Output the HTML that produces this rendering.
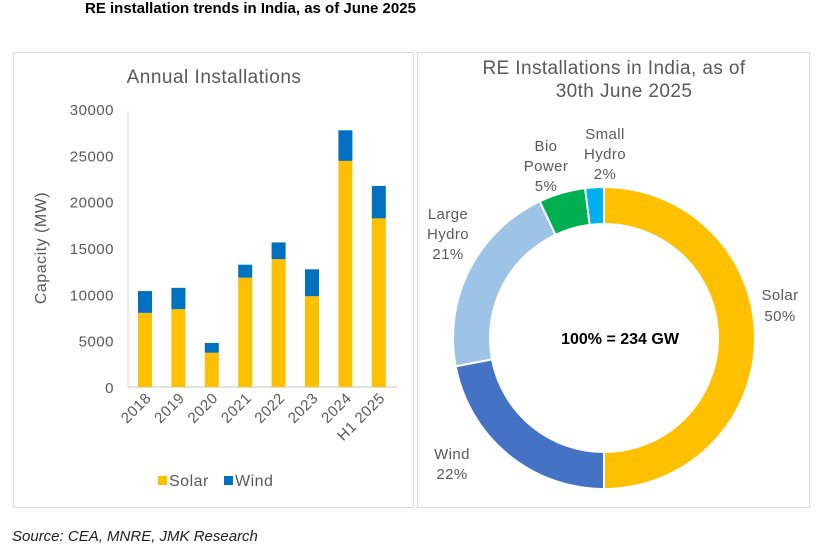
<!DOCTYPE html>
<html><head><meta charset="utf-8"><style>
body{margin:0;width:825px;height:545px;background:#fff;font-family:"Liberation Sans",sans-serif;position:relative;overflow:hidden}
.t{position:absolute}
</style></head><body>
<div class="t" style="left:85px;top:0px;font-size:15px;font-weight:bold;color:#000">RE installation trends in India, as of June 2025</div>
<div class="t" style="left:12px;top:528px;font-size:15px;font-style:italic;color:#222">Source: CEA, MNRE, JMK Research</div>
<svg width="825" height="545" style="position:absolute;left:0;top:0">
<rect x="13.5" y="52.5" width="400" height="455" fill="none" stroke="#d9d9d9"/>
<rect x="417.5" y="52.5" width="392" height="455" fill="none" stroke="#d9d9d9"/>
<text x="214" y="83" font-size="19" fill="#595959" text-anchor="middle" letter-spacing="0.5">Annual Installations</text>
<text transform="translate(46,248) rotate(-90)" font-size="16" fill="#595959" text-anchor="middle" letter-spacing="0.5">Capacity (MW)</text>
<g id="bars"></g>
<text x="614" y="74" font-size="19" fill="#595959" text-anchor="middle" letter-spacing="0.4">RE Installations in India, as of</text>
<text x="624" y="97" font-size="19" fill="#595959" text-anchor="middle" letter-spacing="0.4">30th June 2025</text>
<g id="donut"></g>
<text x="620" y="344" font-size="16" font-weight="bold" fill="#000" text-anchor="middle">100% = 234 GW</text>
</svg>
<script>
const categories=["2018","2019","2020","2021","2022","2023","2024","H1 2025"];
const solar=[8000,8400,3700,11800,13800,9800,24400,18200];
const wind=[2350,2300,1050,1400,1800,2900,3300,3500];
const yTicks=[0,5000,10000,15000,20000,25000,30000];
const shareLabels=["Solar","Wind","Large Hydro","Bio Power","Small Hydro"];
const shares=[50,22,21,5,2];
const NS="http://www.w3.org/2000/svg";
function mk(p,tag,a){const e=document.createElementNS(NS,tag);for(const k in a)e.setAttribute(k,a[k]);p.appendChild(e);return e;}
const bars=document.getElementById('bars');
const y0=387,yTop=109,yMax=30000;
const y=v=>y0-(v/yMax)*(y0-yTop);
const x0=128,step=33.4;
const xc=i=>x0+17+i*step;
yTicks.forEach(t=>{const e=mk(bars,'text',{x:114,y:y(t)+6,'font-size':15,fill:'#595959','text-anchor':'end','letter-spacing':0.5});e.textContent=t;

});
let ax=mk(bars,'line',{x1:x0,y1:y0,x2:397,y2:y0,stroke:'#d9d9d9','stroke-width':1.5});


let ay=mk(bars,'line',{x1:x0,y1:y0,x2:x0,y2:111,stroke:'#d9d9d9','stroke-width':1});


categories.forEach((c,i)=>{
 const bw=14,x=xc(i)-bw/2;
 const s=mk(bars,'rect',{x:x,y:y(solar[i]),width:bw,height:y0-y(solar[i]),fill:'#ffc000'});
 
 
 const w=mk(bars,'rect',{x:x,y:y(solar[i]+wind[i]),width:bw,height:y(solar[i])-y(solar[i]+wind[i]),fill:'#0070c0'});
 
 
 const t=mk(bars,'text',{transform:`translate(${xc(i)+7},${y0+12}) rotate(-45)`,'font-size':15,fill:'#595959','text-anchor':'end','letter-spacing':0.5});t.textContent=c;
 
 
});
[[158,'#ffc000','Solar'],[224,'#0070c0','Wind']].forEach(([lx,col,n])=>{
 const r=mk(bars,'rect',{x:lx,y:476,width:9,height:9,fill:col});
 
 
 const t=mk(bars,'text',{x:lx+11,y:486,'font-size':16,fill:'#595959','letter-spacing':0.5});t.textContent=n;
 
 
});
const dn=document.getElementById('donut');
const cx=604,cy=338,R=151,r=114;
const cols=['#ffc000','#4472c4','#9dc3e6','#00b050','#00b0f0'];
const total=shares.reduce((a,b)=>a+b,0);
let a0=0;
const pt=(rad,a)=>[cx+rad*Math.sin(a),cy-rad*Math.cos(a)];
shares.forEach((v,i)=>{
 const a1=a0+v/total*2*Math.PI;
 const [x1,y1]=pt(R,a0),[x2,y2]=pt(R,a1),[x3,y3]=pt(r,a1),[x4,y4]=pt(r,a0);
 const lg=(a1-a0)>Math.PI?1:0;
 const p=mk(dn,'path',{d:`M${x1},${y1}A${R},${R} 0 ${lg} 1 ${x2},${y2}L${x3},${y3}A${r},${r} 0 ${lg} 0 ${x4},${y4}Z`,fill:cols[i],stroke:'#fff','stroke-width':2});
 
 
 a0=a1;
});
const lab=[[780,[["Solar",300],[shares[0]+"%",321]]],[452,[["Wind",459],[shares[1]+"%",479]]],[448,[["Large",219],["Hydro",239],[shares[2]+"%",259]]],[546,[["Bio",151],["Power",171],[shares[3]+"%",191]]],[605,[["Small",139],["Hydro",159],[shares[4]+"%",179]]]];
lab.forEach(([lx,lines],i)=>{
 lines.forEach(([s,ly])=>{
  const t=mk(dn,'text',{x:lx,y:ly,'font-size':15,fill:'#595959','text-anchor':'middle','letter-spacing':0.4});t.textContent=s;
  
  
 });
});
</script>
</body></html>
